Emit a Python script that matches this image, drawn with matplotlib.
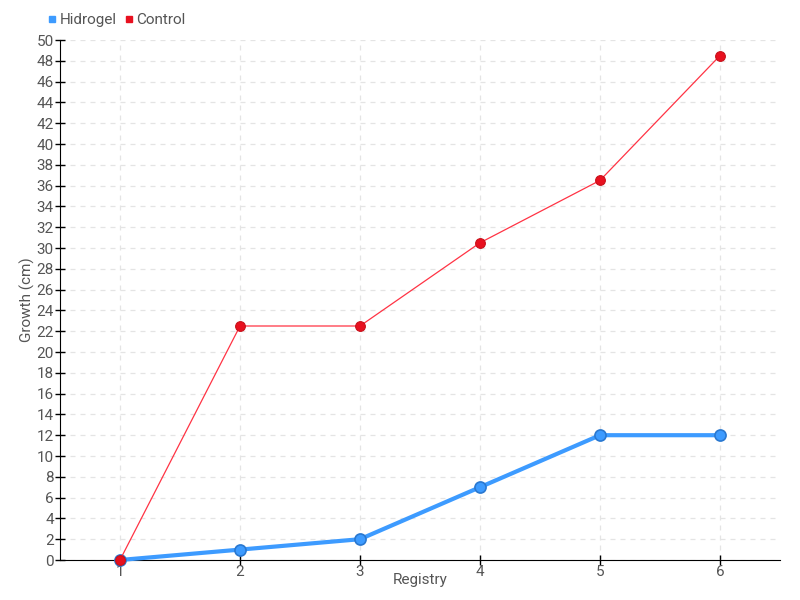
import matplotlib
matplotlib.use("Agg")
import matplotlib.pyplot as plt
from matplotlib.lines import Line2D

registry = [1, 2, 3, 4, 5, 6]
hidrogel = [0, 1, 2, 7, 12, 12]
control = [0, 22.5, 22.5, 30.5, 36.5, 48.5]
y_ticks = list(range(0, 51, 2))

plt.rcParams['font.family'] = ['Roboto', 'DejaVu Sans']

fig = plt.figure(figsize=(8, 6), dpi=100)
ax = fig.add_axes([60/800, 40/600, 720/800, 520/600])
ax.set_xlim(0.5, 6.5)
ax.set_ylim(0, 50)

ax.plot(registry, hidrogel, color='#3d9bff', lw=3, marker='o', ms=8,
        mfc='#3d9bff', mec='#2a78d0', mew=1.2, zorder=3, clip_on=False)
ax.plot(registry, control, color='#ff3344', lw=0.9, marker='o', ms=7,
        mfc='#e8101f', mec='#c8101a', mew=0.8, zorder=4, clip_on=False)

ax.set_yticks(y_ticks)
ax.set_xticks(registry)
ax.grid(True, color='#e4e4e4', ls=(0, (4, 4)), lw=0.9)
ax.set_axisbelow(True)
for s in ['top', 'right']:
    ax.spines[s].set_visible(False)
ax.spines['left'].set_color('black')
ax.spines['bottom'].set_color('black')
ax.tick_params(axis='both', direction='inout', length=7, width=1, colors='black',
               labelcolor='#555555', labelsize=11)
ax.tick_params(axis='x', pad=0)
ax.tick_params(axis='y', pad=1)
ax.set_xlabel('Registry', color='#555555', fontsize=11)
ax.xaxis.set_label_coords(0.5, -13/520)
ax.set_ylabel('Growth (cm)', color='#555555', fontsize=11)
ax.yaxis.set_label_coords(-25/720, 0.5)

handles = [Line2D([], [], ls='none', marker='s', ms=5, color='#3d9bff'),
           Line2D([], [], ls='none', marker='s', ms=5, color='#e8101f')]
fig.legend(handles, ['Hidrogel', 'Control'], loc='upper left',
           bbox_to_anchor=(46/800, 1 - 13/600), ncol=2, frameon=False,
           handletextpad=0.1, columnspacing=0.4, handlelength=0.8,
           fontsize=11, labelcolor='#555555', borderaxespad=0, borderpad=0)

fig.savefig('out.png', dpi=100)
